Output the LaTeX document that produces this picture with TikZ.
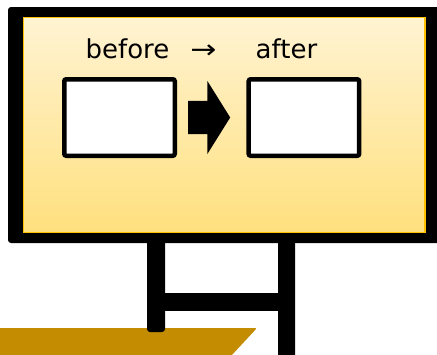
\documentclass[tikz,border=0pt]{standalone}
\usepackage{fontspec}
\setmainfont{DejaVu Sans}
\usetikzlibrary{shapes.arrows, positioning}
\definecolor{boardtop}{HTML}{FFF3D2}
\definecolor{boardbot}{HTML}{FFE07E}
\definecolor{boardrim}{HTML}{FFC000}
\definecolor{floorgold}{HTML}{C48C00}

\begin{document}
\begin{tikzpicture}[x=1pt, y=-1pt,
  frame/.style={fill=black, rounded corners=3pt},
  panel/.style={draw=boardrim, line width=1.5pt,
    top color=boardtop, bottom color=boardbot},
  post/.style={fill=black, rounded corners=3pt},
  pane/.style={rectangle, draw=black, fill=white, line width=4.5pt,
    rounded corners=2pt, minimum width=110.5pt, minimum height=76.5pt,
    inner sep=0pt},
  bigarrow/.style={single arrow, fill=black, inner sep=0pt,
    text height=33pt, text depth=0pt, text width=0pt,
    minimum height=42pt, minimum width=73pt,
    single arrow head extend=20pt, single arrow tip angle=116},
  lbl/.style={font=\fontsize{26}{30}\selectfont, inner sep=0pt}
]
  \useasboundingbox (0,0) rectangle (437,354);
  \clip (0,0) rectangle (437,354);
  % floor
  \fill[floorgold, rounded corners=2pt]
    (-5,328) -- (257,328) -- (231,356) -- (-5,356) -- cycle;
  % stand
  \fill[post] (147,235) rectangle (165,332);
  \fill[post] (278,235) rectangle (295,362);
  \fill (160,293) rectangle (283,311);
  % board
  \fill[frame] (8,7) rectangle (446,243);
  \draw[panel] (23.5,17.5) rectangle (425,232.5);
  % contents
  \node[pane] (before) at (119.5,117.5) {};
  \node[bigarrow, right=11pt of before] (step1) {};
  \node[pane, right=16pt of step1] (after) {};
  \node[lbl, anchor=base] (tbefore) at (127.5,58) {before};
  \node[lbl, anchor=base] (tarrow) at (203.5,58) {\scalebox{1.2}[1]{→}};
  \node[lbl, anchor=base] (tafter) at (286.5,58) {after};
\end{tikzpicture}
\end{document}
